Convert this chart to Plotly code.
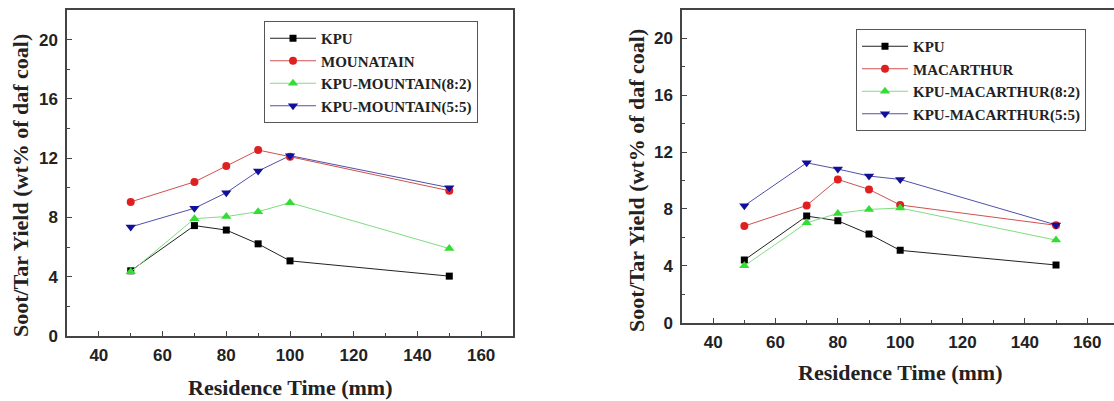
import plotly.graph_objects as go

# ---- data ----
time_mm = [50, 70, 80, 90, 100, 150]

left_names = ["KPU", "MOUNATAIN", "KPU-MOUNTAIN(8:2)", "KPU-MOUNTAIN(5:5)"]
left_kpu = [4.4, 7.45, 7.15, 6.22, 5.07, 4.04]
left_mountain = [9.05, 10.4, 11.47, 12.55, 12.1, 9.8]
left_mix82 = [4.33, 7.92, 8.06, 8.39, 9.0, 5.9]
left_mix55 = [7.36, 8.62, 9.67, 11.13, 12.17, 10.01]

right_names = ["KPU", "MACARTHUR", "KPU-MACARTHUR(8:2)", "KPU-MACARTHUR(5:5)"]
right_kpu = [4.41, 7.5, 7.17, 6.24, 5.09, 4.06]
right_macarthur = [6.8, 8.25, 10.08, 9.38, 8.28, 6.85]
right_mix82 = [4.0, 7.03, 7.69, 7.97, 8.07, 5.81]
right_mix55 = [8.23, 11.25, 10.81, 10.32, 10.08, 6.88]

x_title = "Residence Time (mm)"
y_title = "Soot/Tar Yield (wt% of daf coal)"

# ---- styles ----
styles = [
    dict(line="#222222", marker="#000000", symbol="square", size=7),
    dict(line="#d05050", marker="#e02020", symbol="circle", size=8),
    dict(line="#80dd80", marker="#33dd33", symbol="triangle-up", size=9),
    dict(line="#5050a8", marker="#10109a", symbol="triangle-down", size=9),
]

fig = go.Figure()

def add_series(names, series, xa, ya, legend):
    for name, ys, st in zip(names, series, styles):
        fig.add_trace(go.Scatter(
            x=time_mm, y=ys, name=name, mode="lines+markers",
            line=dict(color=st["line"], width=1),
            marker=dict(color=st["marker"], symbol=st["symbol"], size=st["size"]),
            xaxis=xa, yaxis=ya, legend=legend,
        ))

add_series(left_names, [left_kpu, left_mountain, left_mix82, left_mix55], "x", "y", "legend")
add_series(right_names, [right_kpu, right_macarthur, right_mix82, right_mix55], "x2", "y2", "legend2")

W, H = 1114, 401
tickfont = dict(family="Liberation Sans, Arial, sans-serif", size=17, color="#222", weight="bold")
axis_common = dict(
    showgrid=False, zeroline=False, showline=True, linecolor="#444", linewidth=1.5,
    ticks="inside", ticklen=5, tickcolor="#444", tickwidth=1.2, tickfont=tickfont,
    automargin=False,
)
legend_font = dict(family="Liberation Serif, Times New Roman, serif", size=15, color="#222", weight="bold")

fig.update_layout(
    template="none",
    width=W, height=H, margin=dict(l=0, r=0, t=0, b=0),
    paper_bgcolor="white", plot_bgcolor="white",
    xaxis=dict(domain=[67 / W, 513 / W], range=[30, 170], tick0=0, dtick=20, mirror=True,
               minor=dict(ticks="inside", dtick=10, ticklen=3, tickcolor="#444"),
               anchor="y", ticklabelstandoff=3, **axis_common),
    yaxis=dict(domain=[1 - 336 / H, 1 - 10 / H], range=[0, 22], tick0=0, dtick=4, mirror=True,
               minor=dict(ticks="inside", dtick=2, ticklen=3, tickcolor="#444"),
               anchor="x", ticklabelstandoff=4, **axis_common),
    xaxis2=dict(domain=[682 / W, 1.0], range=[30, 168.6], tick0=0, dtick=20, mirror=True,
                minor=dict(ticks="inside", dtick=10, ticklen=3, tickcolor="#444"),
                anchor="y2", ticklabelstandoff=3, **axis_common),
    yaxis2=dict(domain=[1 - 322.7 / H, 1 - 10 / H], range=[0, 22], tick0=0, dtick=4, mirror=False,
                minor=dict(ticks="inside", dtick=2, ticklen=3, tickcolor="#444"),
                anchor="x2", ticklabelstandoff=4, **axis_common),
    legend=dict(x=264 / W, y=1 - 21 / H, xanchor="left", yanchor="top",
                bordercolor="#555", borderwidth=1, bgcolor="white", itemwidth=46,
                font=legend_font, tracegroupgap=0),
    legend2=dict(x=856 / W, y=1 - 29 / H, xanchor="left", yanchor="top",
                 bordercolor="#555", borderwidth=1, bgcolor="white", itemwidth=46,
                 font=legend_font, tracegroupgap=0),
    showlegend=True,
)

title_font = dict(family="Liberation Serif, Times New Roman, serif", size=22, color="#222", weight="bold")
fig.add_annotation(text=x_title, xref="paper", yref="paper", x=290 / W, y=1 - 387 / H,
                   showarrow=False, font=title_font, xanchor="center", yanchor="middle")
fig.add_annotation(text=x_title, xref="paper", yref="paper", x=900 / W, y=1 - 372 / H,
                   showarrow=False, font=title_font, xanchor="center", yanchor="middle")
fig.add_annotation(text=y_title, xref="paper", yref="paper", x=20 / W, y=1 - 186 / H,
                   showarrow=False, font=title_font, textangle=-90, xanchor="center", yanchor="middle")
fig.add_annotation(text=y_title, xref="paper", yref="paper", x=636 / W, y=1 - 181 / H,
                   showarrow=False, font=title_font, textangle=-90, xanchor="center", yanchor="middle")

fig.write_html(
    "out.html",
    config={"displayModeBar": False},
    post_script="document.body.style.margin='0';document.body.style.overflow='hidden';",
)
